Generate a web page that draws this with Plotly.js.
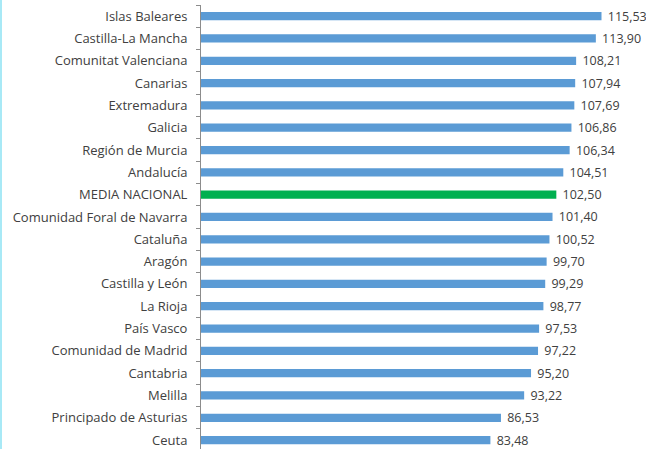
<!DOCTYPE html>
<html>
<head>
<meta charset="utf-8">
<script src="https://cdn.plot.ly/plotly-3.0.1.min.js"></script>
<style>
  html, body { margin: 0; padding: 0; background: #ffffff; }
  #chart { width: 644px; height: 449px; border-left: 2px solid #a8e9f6; }
</style>
</head>
<body>
<div id="chart"></div>
<script>
const regions = [
  "Islas Baleares", "Castilla-La Mancha", "Comunitat Valenciana", "Canarias",
  "Extremadura", "Galicia", "Región de Murcia", "Andalucía", "MEDIA NACIONAL",
  "Comunidad Foral de Navarra", "Cataluña", "Aragón", "Castilla y León",
  "La Rioja", "País Vasco", "Comunidad de Madrid", "Cantabria", "Melilla",
  "Principado de Asturias", "Ceuta"
];
const values = [
  115.53, 113.90, 108.21, 107.94, 107.69, 106.86, 106.34, 104.51, 102.50,
  101.40, 100.52, 99.70, 99.29, 98.77, 97.53, 97.22, 95.20, 93.22, 86.53, 83.48
];
const highlight = "MEDIA NACIONAL";
const blue = "#5b9bd5";
const green = "#00b050";

const colors = regions.map(r => r === highlight ? green : blue);

const trace = {
  type: "bar",
  orientation: "h",
  x: values,
  y: regions,
  marker: { color: colors },
  texttemplate: " %{x:.2f}",
  textposition: "outside",
  constraintext: "none",
  cliponaxis: false,
  textfont: { family: "Open Sans, sans-serif", size: 12.5, color: "#404040" },
  hoverinfo: "none"
};

const layout = {
  width: 644,
  height: 449,
  margin: { l: 199, r: 29, t: 5, b: 0 },
  paper_bgcolor: "#ffffff",
  plot_bgcolor: "#ffffff",
  separators: ",.",
  bargap: 0.63,
  showlegend: false,
  font: { family: "Open Sans, sans-serif", size: 13, color: "#404040" },
  xaxis: {
    range: [0, 120],
    showgrid: false,
    zeroline: false,
    showticklabels: false,
    ticks: "",
    showline: false,
    fixedrange: true
  },
  yaxis: {
    type: "category",
    range: [19.4, -0.5],
    showgrid: false,
    zeroline: false,
    showline: true,
    linecolor: "#8c8c8c",
    linewidth: 1,
    ticks: "outside",
    tickson: "boundaries",
    ticklen: 4,
    tickcolor: "#8c8c8c",
    ticklabelstandoff: 10,
    tickfont: { family: "Open Sans, sans-serif", size: 13, color: "#404040" },
    fixedrange: true
  }
};

Plotly.newPlot("chart", [trace], layout, { displayModeBar: false, staticPlot: true });
</script>
</body>
</html>
